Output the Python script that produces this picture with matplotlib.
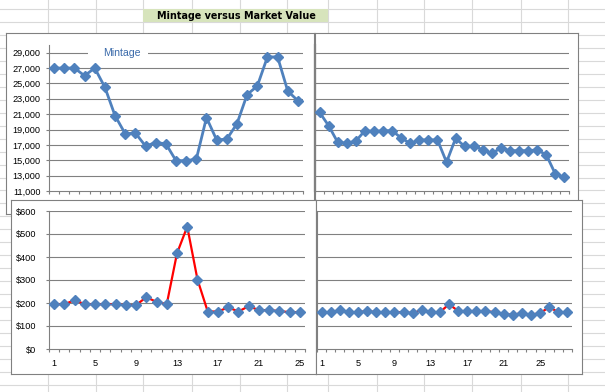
import matplotlib
matplotlib.use("Agg")
import numpy as np
import matplotlib.pyplot as plt
from matplotlib.patches import Rectangle

W, H = 605, 392

# mintage (top charts) and market value (bottom charts)
mint_a = [27000, 27000, 27000, 26000, 27000, 24500, 20800, 18450, 18550, 16850,
          17300, 17150, 14950, 14950, 15150, 20550, 17650, 17750, 19750, 23550,
          24650, 28450, 28450, 24000, 22750]
mint_b = [21250, 19500, 17350, 17200, 17500, 18850, 18750, 18850, 18850, 17900,
          17200, 17650, 17650, 17650, 14750, 17850, 16800, 16850, 16350, 15900,
          16600, 16250, 16250, 16250, 16350, 15700, 13200, 12800]
value_a = [195, 195, 212, 195, 195, 195, 195, 191, 191, 225, 205, 195, 416, 532,
           302, 163, 163, 181, 163, 186, 169, 169, 165, 160, 160]
value_b = [160, 160, 169, 160, 160, 165, 160, 160, 160, 160, 156, 169, 160, 160,
           195, 165, 165, 165, 165, 160, 152, 149, 156, 149, 156, 182, 160, 160]

mint_ticks = list(range(11000, 29001, 2000))
value_ticks = list(range(0, 601, 100))
cat_labels = [1, 5, 9, 13, 17, 21, 25]

title = "Mintage versus Market Value"
series_name = "Mintage"

blue = "#4F81BD"
red = "#FF0000"
grey = "#808080"
cell_grid = "#D9D9D9"

plt.rcParams['font.family'] = ['Liberation Sans', 'DejaVu Sans']

fig = plt.figure(figsize=(W / 100, H / 100), dpi=100)
fig.patch.set_facecolor("white")


def px_axes(x0, y0, x1, y1):
    return fig.add_axes([x0 / W, 1 - y1 / H, (x1 - x0) / W, (y1 - y0) / H])


# spreadsheet background
bg = px_axes(0, 0, W, H)
bg.set_xlim(0, W)
bg.set_ylim(H, 0)
bg.axis("off")
cols = [48, 96, 143, 192, 240, 287, 328, 377, 424, 472, 521, 568]
rows = [8.5] + list(np.arange(22, H, 12.96))
for c in cols:
    bg.axvline(c, color=cell_grid, lw=0.8)
for r in rows:
    bg.axhline(r, color=cell_grid, lw=0.8)
bg.add_patch(Rectangle((143, 8.5), 185, 13.5, fc="#D7E4BC", ec="none", zorder=3))
bg.text(236, 15.5, title, ha="center", va="center", fontsize=6.9,
        fontweight="bold", family="DejaVu Sans", zorder=4)


def frame(x0, y0, x1, y1):
    ax = px_axes(x0, y0, x1, y1)
    ax.set_facecolor("white")
    ax.set_xticks([])
    ax.set_yticks([])
    for s in ax.spines.values():
        s.set_color(grey)
        s.set_linewidth(0.8)
    return ax


def panel(box, vals, ylim, yticks, fmt, line_color, lw, show_y=True,
          show_x=True, ypad=3.6, left_lw=0.8):
    ax = px_axes(*box)
    ax.set_facecolor("none")
    n = len(vals)
    x = np.arange(1, n + 1)
    ax.set_xlim(0.5, n + 0.5)
    ax.set_ylim(*ylim)
    for t in yticks[1:]:
        ax.axhline(t, color=grey, lw=0.8, zorder=1)
    ax.plot(x, vals, color=line_color, lw=lw, marker="D", ms=4.6,
            mfc=blue, mec=blue, clip_on=False, zorder=3)
    for s in ["top", "right"]:
        ax.spines[s].set_visible(False)
    ax.spines["left"].set_color(grey)
    ax.spines["left"].set_linewidth(left_lw)
    ax.spines["bottom"].set_color(grey)
    ax.spines["bottom"].set_linewidth(0.8)
    ax.set_xticks(np.arange(0.5, n + 1, 1))
    ax.set_xticklabels([])
    ax.tick_params(axis="x", which="major", direction="out", length=2.4,
                   color=grey, width=0.8)
    if show_x:
        ax.set_xticks(cat_labels, minor=True)
        ax.set_xticklabels([str(c) for c in cat_labels], minor=True)
        ax.tick_params(axis="x", which="minor", length=0, pad=7, labelsize=6.6)
    if show_y:
        ax.set_yticks(yticks)
        ax.set_yticklabels([fmt(v) for v in yticks])
        ax.tick_params(axis="y", direction="out", length=2.4, color=grey,
                       width=0.8, labelsize=6.6, pad=ypad)
    else:
        ax.set_yticks([])
    return ax


# top-left: mintage
frame(6, 33, 314, 214)
ax1 = panel((49, 45, 303, 191), mint_a, (11000, 30000), mint_ticks,
            lambda v: f"{v:,}", blue, 2.0)
ax1.add_patch(Rectangle((4.35, 28600), 5.9, 800, fc="white", ec="none", zorder=2))
ax1.text(7.7, 29000, series_name, ha="center", va="center", fontsize=7.6,
         color="#3A6AAA", zorder=4)

# top-right: mintage
frame(315, 33, 578, 214)
panel((315, 45, 569, 191), mint_b, (11000, 30000), mint_ticks,
      lambda v: f"{v:,}", blue, 2.0, show_y=False, show_x=False, left_lw=1.6)

# bottom-left: market value
frame(11, 200, 316, 374)
panel((49, 211, 305, 349), value_a, (0, 600), value_ticks,
      lambda v: f"${v}", red, 1.6, ypad=6.5)

# bottom-right: market value
frame(316, 200, 582, 374)
panel((317, 211, 572, 349), value_b, (0, 600), value_ticks,
      lambda v: f"${v}", red, 1.6, show_y=False)

fig.savefig("out.png", dpi=100)
